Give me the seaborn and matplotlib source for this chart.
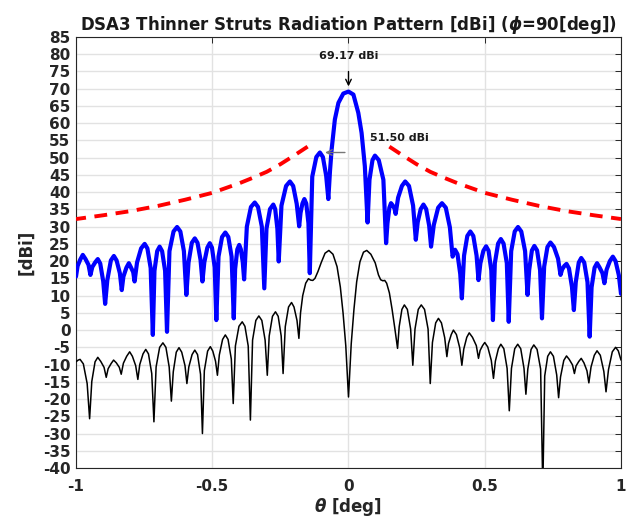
import numpy as np
import pandas as pd
import matplotlib
matplotlib.use("Agg")
import matplotlib.pyplot as plt
import seaborn as sns

# ---------------- data ----------------
# co-polar pattern (blue): theta [deg], gain [dBi]
co_theta = [
    -1.000, -0.994, -0.984, -0.975, -0.965, -0.954, -0.947, -0.940, -0.929, -0.920,
    -0.911, -0.900, -0.893, -0.885, -0.872, -0.861, -0.851, -0.839, -0.832, -0.826,
    -0.815, -0.806, -0.799, -0.790, -0.785, -0.776, -0.761, -0.748, -0.738, -0.726,
    -0.718, -0.712, -0.702, -0.693, -0.684, -0.673, -0.666, -0.657, -0.642, -0.629,
    -0.617, -0.604, -0.595, -0.587, -0.575, -0.564, -0.554, -0.543, -0.536, -0.529,
    -0.518, -0.509, -0.501, -0.491, -0.485, -0.477, -0.464, -0.452, -0.441, -0.429,
    -0.421, -0.416, -0.408, -0.401, -0.395, -0.388, -0.383, -0.373, -0.358, -0.344,
    -0.332, -0.318, -0.309, -0.301, -0.288, -0.276, -0.269, -0.261, -0.256, -0.246,
    -0.229, -0.215, -0.203, -0.190, -0.181, -0.176, -0.169, -0.162, -0.155, -0.147,
    -0.142, -0.133, -0.118, -0.105, -0.094, -0.082, -0.074, -0.068, -0.062, -0.050,
    -0.037, -0.019, 0.000, 0.018, 0.036, 0.048, 0.060, 0.070, 0.077, 0.088,
    0.097, 0.111, 0.128, 0.138, 0.143, 0.150, 0.156, 0.162, 0.169, 0.173,
    0.182, 0.196, 0.208, 0.222, 0.237, 0.247, 0.254, 0.265, 0.275, 0.285,
    0.296, 0.303, 0.313, 0.329, 0.343, 0.357, 0.372, 0.382, 0.391, 0.400,
    0.410, 0.416, 0.424, 0.436, 0.447, 0.458, 0.470, 0.477, 0.484, 0.495,
    0.505, 0.514, 0.524, 0.530, 0.537, 0.549, 0.559, 0.569, 0.581, 0.588,
    0.597, 0.610, 0.622, 0.634, 0.648, 0.657, 0.663, 0.673, 0.682, 0.692,
    0.703, 0.710, 0.718, 0.730, 0.741, 0.754, 0.769, 0.778, 0.784, 0.792,
    0.800, 0.809, 0.820, 0.827, 0.834, 0.845, 0.854, 0.865, 0.877, 0.885,
    0.892, 0.903, 0.912, 0.921, 0.932, 0.939, 0.947, 0.959, 0.970, 0.980,
    0.992, 1.000]
co_db = [
    15.5, 18.6, 20.5, 21.8, 20.6, 18.9, 16.0, 18.3, 19.7, 20.6,
    19.3, 14.1, 7.6, 14.5, 20.2, 21.5, 20.2, 16.5, 11.6, 15.5,
    18.1, 19.4, 18.3, 16.8, 14.1, 19.6, 23.7, 25.0, 23.7, 18.0,
    -1.4, 17.2, 22.9, 24.2, 22.9, 17.2, -0.5, 22.9, 28.6, 29.9,
    28.6, 22.9, 10.2, 19.6, 25.3, 26.6, 25.3, 20.4, 14.1, 19.7,
    23.9, 25.2, 23.9, 18.2, 2.9, 21.3, 27.0, 28.3, 27.0, 21.3,
    3.4, 17.7, 23.4, 24.7, 23.4, 19.7, 14.7, 30.0, 35.7, 37.0,
    35.7, 30.0, 12.1, 29.4, 35.1, 36.4, 35.1, 29.4, 19.9, 36.1,
    41.8, 43.1, 41.8, 36.6, 30.1, 34.0, 36.7, 38.0, 36.7, 31.0,
    16.5, 44.5, 50.2, 51.5, 50.2, 44.8, 38.0, 46.0, 52.3, 61.1,
    65.9, 68.6, 69.17, 68.3, 63.0, 57.2, 47.5, 31.2, 43.6, 49.3,
    50.6, 49.3, 43.6, 25.2, 31.0, 35.5, 36.8, 36.2, 35.2, 33.7,
    38.4, 41.8, 43.1, 41.8, 36.1, 26.2, 31.3, 35.1, 36.4, 35.1,
    30.3, 24.2, 30.5, 35.5, 36.8, 35.5, 29.8, 21.3, 23.3, 22.0,
    16.3, 9.2, 21.6, 27.3, 28.6, 27.3, 21.6, 14.5, 19.4, 23.0,
    24.3, 23.0, 17.3, 2.9, 19.4, 25.1, 26.4, 25.1, 19.4, 2.4,
    22.9, 28.6, 29.9, 28.6, 22.9, 10.2, 17.4, 23.1, 24.4, 23.1,
    17.4, 3.4, 18.4, 24.1, 25.4, 24.1, 20.7, 16.0, 17.6, 18.6,
    19.2, 17.9, 12.5, 5.8, 13.9, 19.6, 20.9, 19.6, 13.9, -1.9,
    12.4, 18.1, 19.4, 18.2, 16.5, 13.6, 17.5, 20.0, 21.3, 20.0,
    15.9, 10.5]

# cross-polar pattern (black)
x_theta = [
    -1.000, -0.992, -0.985, -0.973, -0.959, -0.950, -0.942, -0.930, -0.920, -0.909,
    -0.897, -0.889, -0.882, -0.871, -0.862, -0.852, -0.841, -0.834, -0.826, -0.814,
    -0.803, -0.793, -0.781, -0.773, -0.766, -0.754, -0.744, -0.734, -0.722, -0.714,
    -0.706, -0.693, -0.681, -0.670, -0.658, -0.650, -0.643, -0.632, -0.622, -0.612,
    -0.600, -0.593, -0.586, -0.574, -0.564, -0.554, -0.543, -0.536, -0.529, -0.517,
    -0.507, -0.498, -0.488, -0.481, -0.474, -0.462, -0.452, -0.442, -0.430, -0.423,
    -0.415, -0.402, -0.390, -0.380, -0.368, -0.360, -0.352, -0.340, -0.329, -0.318,
    -0.306, -0.298, -0.291, -0.279, -0.268, -0.258, -0.247, -0.240, -0.232, -0.220,
    -0.209, -0.200, -0.189, -0.182, -0.176, -0.168, -0.157, -0.147, -0.139, -0.131,
    -0.123, -0.112, -0.100, -0.086, -0.072, -0.057, -0.042, -0.030, -0.020, -0.010,
    0.000, 0.010, 0.020, 0.030, 0.042, 0.055, 0.067, 0.082, 0.098, 0.110,
    0.118, 0.126, 0.133, 0.140, 0.150, 0.160, 0.170, 0.180, 0.186, 0.196,
    0.205, 0.216, 0.228, 0.236, 0.244, 0.256, 0.267, 0.279, 0.292, 0.300,
    0.308, 0.320, 0.330, 0.341, 0.353, 0.361, 0.367, 0.377, 0.385, 0.396,
    0.408, 0.416, 0.423, 0.434, 0.443, 0.455, 0.469, 0.477, 0.483, 0.492,
    0.500, 0.511, 0.524, 0.532, 0.539, 0.550, 0.559, 0.570, 0.582, 0.590,
    0.598, 0.610, 0.621, 0.632, 0.644, 0.651, 0.658, 0.670, 0.680, 0.692,
    0.705, 0.713, 0.720, 0.731, 0.741, 0.752, 0.764, 0.771, 0.778, 0.790,
    0.800, 0.810, 0.822, 0.829, 0.835, 0.845, 0.854, 0.864, 0.875, 0.882,
    0.890, 0.902, 0.912, 0.924, 0.937, 0.945, 0.954, 0.968, 0.980, 0.990,
    1.000]
x_db = [
    -9.2, -8.7, -8.5, -9.8, -15.5, -25.7, -14.9, -9.2, -7.9, -9.1,
    -10.8, -13.7, -11.2, -9.7, -8.7, -9.5, -10.8, -12.8, -9.6, -7.6,
    -6.3, -7.6, -10.3, -14.3, -10.0, -6.9, -5.6, -6.9, -12.6, -26.6,
    -10.7, -5.0, -3.7, -5.0, -10.7, -20.6, -12.1, -6.4, -5.1, -6.4,
    -10.3, -15.5, -10.7, -7.1, -5.8, -7.1, -12.8, -30.0, -11.8, -6.1,
    -4.8, -6.1, -9.0, -13.1, -7.2, -2.7, -1.4, -2.7, -8.4, -21.3,
    -4.6, 1.1, 2.4, 1.1, -4.6, -26.1, -2.9, 2.8, 4.1, 2.8,
    -2.9, -13.1, -1.7, 4.0, 5.3, 4.0, -1.7, -12.6, 1.0, 6.7,
    8.0, 6.7, 2.8, -2.4, 5.0, 10.0, 13.6, 14.9, 14.5, 14.4,
    15.0, 17.0, 19.6, 22.3, 23.1, 22.0, 18.4, 12.5, 5.0, -4.5,
    -19.4, -4.0, 6.0, 14.0, 19.8, 22.6, 23.1, 22.0, 19.5, 16.0,
    14.6, 14.3, 14.4, 13.6, 10.8, 6.0, 0.5, -5.3, 1.0, 6.0,
    7.3, 6.0, 0.3, -10.2, 0.3, 6.0, 7.3, 6.0, 0.3, -15.5,
    -3.6, 2.1, 3.4, 2.1, -2.2, -7.7, -3.9, -1.3, 0.0, -1.3,
    -5.1, -10.2, -5.5, -2.1, -0.8, -2.1, -4.5, -8.2, -5.9, -4.5,
    -3.6, -4.9, -8.8, -14.0, -9.0, -5.4, -4.1, -5.4, -11.1, -23.4,
    -11.1, -5.4, -4.1, -5.4, -11.1, -18.6, -11.3, -5.6, -4.3, -5.6,
    -11.3, -46.0, -13.3, -7.6, -6.3, -7.6, -13.0, -19.6, -13.6, -8.8,
    -7.5, -8.5, -10.1, -12.6, -10.4, -9.1, -8.2, -9.5, -11.8, -15.3,
    -10.7, -7.3, -6.0, -7.3, -12.0, -17.9, -11.5, -6.3, -5.0, -6.0,
    -8.7]

# sidelobe envelope (red dashed), mirrored about theta = 0
env_theta = [0.15, 0.20, 0.25, 0.30, 0.35, 0.40, 0.50, 0.60, 0.70, 0.80, 0.90, 1.00]
env_db = [53.2, 50.6, 48.1, 45.9, 44.2, 42.6, 39.8, 37.8, 36.0, 34.5, 33.3, 32.2]

y_ticks = list(range(-40, 90, 5))
x_ticks = [-1, -0.5, 0, 0.5, 1]
x_ticklabels = ["-1", "-0.5", "0", "0.5", "1"]

peak_theta, peak_db = 0.0, 69.17
side_theta, side_db = -0.086, 51.50

# ---------------- style ----------------
sns.set_theme(style="white")
plt.rcParams["font.family"] = ["DejaVu Sans"]
plt.rcParams["font.weight"] = "bold"
plt.rcParams["axes.titleweight"] = "bold"
plt.rcParams["axes.labelweight"] = "bold"
plt.rcParams["mathtext.fontset"] = "dejavusans"

fig = plt.figure(figsize=(6.29, 5.21), dpi=100)
ax = fig.add_axes([0.1208, 0.1017, 0.8665, 0.8273])

df_co = pd.DataFrame({"theta": co_theta, "dB": co_db})
df_x = pd.DataFrame({"theta": x_theta, "dB": x_db})
df_envR = pd.DataFrame({"theta": env_theta, "dB": env_db})
df_envL = pd.DataFrame({"theta": [-t for t in env_theta], "dB": env_db})

sns.lineplot(data=df_co, x="theta", y="dB", ax=ax, color=(0, 0, 1), lw=3.0,
             sort=False, estimator=None, zorder=3,
             solid_joinstyle="round", solid_capstyle="round")
sns.lineplot(data=df_x, x="theta", y="dB", ax=ax, color="black", lw=1.1,
             sort=False, estimator=None, zorder=3,
             solid_joinstyle="round")
for d in (df_envL, df_envR):
    sns.lineplot(data=d, x="theta", y="dB", ax=ax, color=(1, 0, 0), lw=2.8,
                 sort=False, estimator=None, zorder=4,
                 linestyle=(0, (3.3, 2.2)))

ax.set_xlim(-1, 1)
ax.set_ylim(-40, 85)
ax.set_yticks(y_ticks)
ax.set_yticklabels([str(v) for v in y_ticks])
ax.set_xticks(x_ticks)
ax.set_xticklabels(x_ticklabels)
ax.grid(True, color="#e2e2e2", lw=1.0, zorder=0)
ax.set_axisbelow(True)
ax.tick_params(direction="in", length=4, width=0.7, color="#262626",
               top=True, right=True, labelsize=11, labelcolor="#262626")
ax.tick_params(axis="x", pad=8)
ax.tick_params(axis="y", pad=4)
for s in ax.spines.values():
    s.set_color("#262626")
    s.set_linewidth(0.8)

ax.set_title(r"DSA3 Thinner Struts Radiation Pattern [dBi] ($\phi$=90[deg])",
             fontsize=12, pad=5, color="#1a1a1a")
ax.set_xlabel(r"$\theta$ [deg]", fontsize=12, labelpad=1, color="#262626")
ax.set_ylabel("[dBi]", fontsize=12, labelpad=5, color="#262626")

ax.annotate(f"{peak_db:.2f} dBi", xy=(peak_theta, peak_db + 1.5),
            xytext=(peak_theta, 79.4), ha="center", va="center",
            fontsize=8, fontweight="bold", color="#1a1a1a",
            arrowprops=dict(arrowstyle="->", color="black", lw=1.0,
                            shrinkA=5, shrinkB=0, mutation_scale=10))
ax.annotate("", xy=(side_theta, side_db), xytext=(-0.013, side_db),
            arrowprops=dict(arrowstyle="->", color="#777777", lw=1.0,
                            shrinkA=0, shrinkB=0, mutation_scale=10))
ax.text(0.079, 55.6, f"{side_db:.2f} dBi", ha="left", va="center",
        fontsize=8, fontweight="bold", color="#1a1a1a")

fig.savefig("out.png", dpi=100)
